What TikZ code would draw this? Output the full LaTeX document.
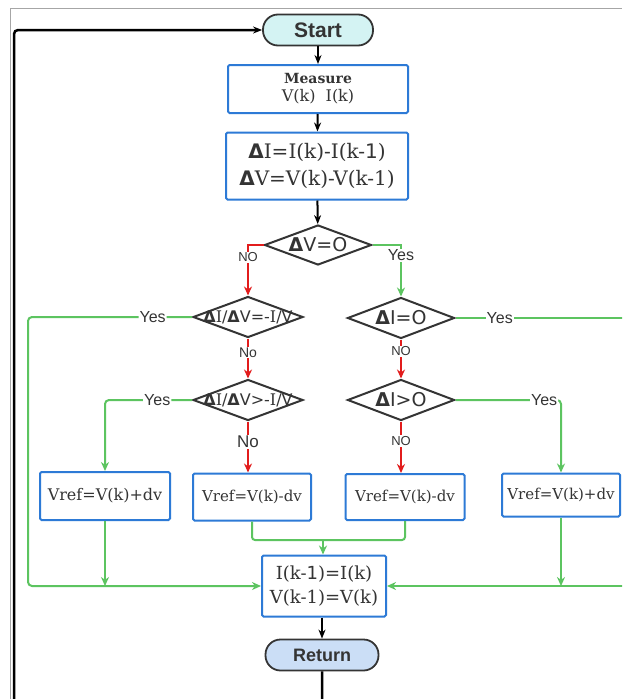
\documentclass[tikz,border=0pt]{standalone}
\usepackage{fontspec}
\setmainfont{DejaVu Serif}
\setsansfont{Liberation Sans}
\newfontfamily\dsans{DejaVu Sans}
\usepackage{tikz}
\usetikzlibrary{arrows.meta,shapes.geometric}
\definecolor{boxblue}{RGB}{45,122,214}
\definecolor{lgreen}{RGB}{92,196,96}
\definecolor{lred}{RGB}{226,28,28}
\definecolor{txtgray}{RGB}{52,52,52}
\definecolor{startfill}{RGB}{212,243,243}
\definecolor{retfill}{RGB}{203,222,246}
\newcommand{\fs}[1]{\fontsize{#1}{#1}\selectfont}
\newcommand{\dl}{{\dsans\bfseries Δ}}
\tikzset{
  term/.style={draw=txtgray, line width=1.8pt, rounded corners=15pt, minimum width=110pt,
    minimum height=31pt, inner sep=0pt, text=txtgray, font=\sffamily\bfseries\fs{21}},
  pbox/.style={draw=boxblue, line width=2pt, rounded corners=1.5pt, fill=white, align=center,
    inner sep=0pt, text=txtgray},
  dec/.style={diamond, draw=txtgray, line width=2pt, fill=white, minimum width=110pt,
    minimum height=41pt, inner sep=0pt, text=txtgray, font=\dsans},
  lbl/.style={fill=white, inner sep=1pt, text=txtgray, font=\sffamily\fs{16}},
  bline/.style={draw=black, line width=2pt, -{Stealth[length=9pt,width=7pt]}},
  gline/.style={draw=lgreen, line width=2pt, -{Stealth[length=9pt,width=8pt]}},
  rline/.style={draw=lred, line width=2pt, -{Stealth[length=9pt,width=8pt]}},
  >=Stealth
}
\begin{document}
\begin{tikzpicture}[x=1pt, y=-1pt]
  \useasboundingbox (0,0) rectangle (622,699);
  \clip (0,0) rectangle (622,699);
  \fill[white] (0,0) rectangle (622,699);
  % screenshot frame
  \draw[gray!70, line width=1pt] (10,699) -- (10,8) -- (622,8);
  \coordinate (lp) at (14,720);
  \coordinate (lft) at (28,0);
  \coordinate (rgt) at (640,0);
  \coordinate (mrg) at (323,540);

  \node[term, fill=startfill] (st) at (318,30) {Start};
  \node[pbox, minimum width=180pt, minimum height=48pt, font=\fs{14}\linespread{1.3}\selectfont] (ms) at (318,89)
    {\textbf{Measure}\\{\fs{16}V(k)\ \ I(k)}};
  \node[pbox, minimum width=182pt, minimum height=67pt, font=\fs{20}\linespread{1.35}\selectfont] (dt) at (317,166)
    {\raisebox{-4pt}{\parbox{182pt}{\centering\dl I=I(k)-I(k-{\dsans 1})\\ \dl V=V(k)-V(k-1)}}};
  \node[dec, minimum width=107pt, minimum height=40pt] (d1) at (318,245) {\makebox[0pt]{\fs{19}\dl V=O}};
  \node[dec] (d2) at (248,317) {\makebox[0pt]{\fs{16}\dl{\rmfamily I}/\dl V=-{\rmfamily I}/V}};
  \node[dec, minimum width=107pt] (d3) at (401,318) {\makebox[0pt]{\fs{19}\dl I=O}};
  \node[dec] (d4) at (248,400) {\makebox[0pt]{\fs{16}\dl{\rmfamily I}/\dl V>-{\rmfamily I}/V}};
  \node[dec, minimum width=107pt] (d5) at (401,400) {\makebox[0pt]{\fs{19}\dl I>O}};
  \node[pbox, minimum width=130pt, minimum height=48pt, font=\fs{16}] (b1) at (105,496) {Vref=V(k)+dv};
  \node[pbox, minimum width=118pt, minimum height=47pt, font=\fs{15}] (b2) at (252,497) {Vref=V(k)-dv};
  \node[pbox, minimum width=119pt, minimum height=46pt, font=\fs{15}] (b3) at (405,497) {Vref=V(k)-dv};
  \node[pbox, minimum width=118pt, minimum height=43pt, font=\fs{15}] (b4) at (561,495) {Vref=V(k)+dv};
  \node[pbox, minimum width=124pt, minimum height=61pt, font=\fs{18}\linespread{1.35}\selectfont] (ik) at (324,586)
    {I(k-{\dsans 1})=I(k)\\V(k-1)=V(k)};
  \node[term, fill=retfill, minimum width=113pt, font=\sffamily\bfseries\fs{18}] (ret) at (322,655) {Return};

  % main chain
  \draw[bline] (st) -- (ms);
  \draw[bline] (ms) -- (dt);
  \draw[bline] (dt) -- (d1);
  \draw[bline] (ik.south -| ret) -- (ret);
  \draw[bline, line width=2.5pt, rounded corners=4pt] (ret.south) |- (lp) |- (st.west);

  % decisions
  \draw[rline] (d1.west) -| node[lbl, pos=0.62, font=\sffamily\fs{13}] {NO} (d2.north);
  \draw[gline] (d1.east) -| node[lbl, pos=0.6] {Yes} (d3.north);
  \draw[rline] (d2.south) -- node[lbl, pos=0.35, font=\sffamily\fs{14}] {No} (d4.north);
  \draw[rline] (d3.south) -- node[lbl, pos=0.3, font=\sffamily\fs{13}] {NO} (d5.north);
  \draw[rline] (d4.south) -- node[lbl, pos=0.4, font=\sffamily\fs{17}] {No} (b2.north -| d4);
  \draw[rline] (d5.south) -- node[lbl, pos=0.38, font=\sffamily\fs{13}] {NO} (b3.north -| d5);
  \draw[gline, rounded corners=4pt] (d2.west) -- node[lbl, pos=0.24] {Yes} (d2.west -| lft) |- (ik.west);
  \draw[gline] (d3.east) -- node[lbl, pos=0.24] {Yes} (d3.east -| rgt) |- (ik.east);
  \draw[gline, rounded corners=4pt] (d4.west) -| node[lbl, pos=0.2] {Yes} (b1.north);
  \draw[gline, rounded corners=4pt] (d5.east) -| node[lbl, pos=0.42] {Yes} (b4.north);

  % to the update box
  \draw[gline] (b1.south) -- (b1.south |- ik.west);
  \draw[gline] (b4.south) -- (b4.south |- ik.east);
  \draw[gline, -, rounded corners=3pt] (b2.south) |- (mrg) -| (b3.south);
  \draw[gline] (mrg) -- (ik.north -| mrg);
\end{tikzpicture}
\end{document}
